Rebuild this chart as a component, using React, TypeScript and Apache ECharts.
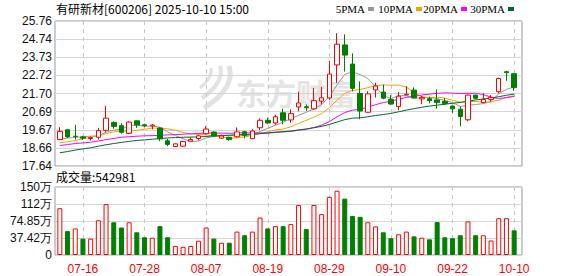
import React, { useEffect, useRef } from "react";
import * as echarts from "echarts";

const dates = [
  "07-11","07-14","07-15","07-16","07-17","07-18","07-21","07-22","07-23","07-24",
  "07-25","07-28","07-29","07-30","07-31","08-01","08-04","08-05","08-06","08-07",
  "08-08","08-11","08-12","08-13","08-14","08-15","08-18","08-19","08-20","08-21",
  "08-22","08-25","08-26","08-27","08-28","08-29","09-01","09-02","09-03","09-04",
  "09-05","09-08","09-09","09-10","09-11","09-12","09-15","09-16","09-17","09-18",
  "09-19","09-22","09-23","09-24","09-25","09-26","09-29","09-30","10-09","10-10",
];

const opens = [
  19.12,19.67,19.31,19.27,19.18,19.25,19.64,20.08,19.90,19.47,
  20.17,19.95,19.88,19.77,19.05,18.73,18.75,19.03,19.18,19.45,
  19.54,19.20,19.25,19.28,19.56,19.17,19.78,20.20,20.05,20.62,
  20.22,20.95,20.96,20.84,21.27,21.45,23.30,24.42,23.35,21.70,
  20.65,21.90,21.78,21.37,20.97,21.62,21.89,21.40,21.41,21.34,
  21.26,21.00,20.82,20.23,21.61,21.19,21.37,21.80,22.92,22.81,
];
const closes = [
  19.58,19.27,19.29,19.20,19.23,19.62,20.32,19.86,19.53,20.10,
  19.93,19.90,19.93,19.16,18.85,18.88,19.01,19.12,19.33,19.71,
  19.32,19.32,19.12,19.55,19.36,19.60,20.20,20.05,20.40,20.20,
  20.57,21.17,20.90,21.30,21.46,22.79,24.46,23.85,21.99,20.72,
  21.68,22.12,21.44,21.11,21.55,21.66,21.45,21.48,21.30,21.19,
  21.13,20.84,20.41,21.61,21.43,21.37,21.48,22.54,22.87,22.04,
];
const lows = [
  19.08,19.21,19.12,19.10,19.07,19.12,19.55,19.73,19.44,19.42,
  19.77,19.82,19.69,19.03,18.75,18.70,18.72,19.01,19.08,19.40,
  19.26,19.15,19.05,19.22,19.19,19.15,19.65,19.98,19.94,19.98,
  20.07,20.70,20.72,20.80,21.09,21.35,22.29,22.93,21.82,20.26,
  20.63,21.47,21.38,21.07,20.76,21.59,21.44,21.10,21.15,20.86,
  21.06,20.60,19.86,20.14,21.37,21.15,21.24,21.71,22.41,21.85,
];
const highs = [
  19.82,19.69,19.95,19.33,19.29,19.77,21.00,20.14,20.04,20.15,
  20.19,20.01,19.99,19.80,19.16,18.90,19.05,19.25,19.40,19.86,
  19.58,19.40,19.28,19.80,19.61,19.70,20.30,20.35,20.51,20.85,
  20.81,21.80,21.09,22.01,22.07,23.52,25.08,25.01,23.95,22.38,
  21.82,22.30,22.20,21.61,21.78,22.10,22.04,21.56,21.52,21.93,
  21.45,21.02,20.97,21.65,21.63,21.71,21.61,22.59,22.98,22.81,
];

// volume in shares
const volumes = [
  1030000,525000,585000,360000,360000,765000,1120000,720000,605000,720000,
  500000,390000,380000,635000,390000,200000,180000,200000,315000,605000,
  360000,270000,270000,515000,435000,515000,825000,585000,635000,635000,
  680000,1100000,570000,1100000,900000,1280000,1415000,1240000,860000,840000,
  720000,630000,500000,370000,455000,515000,410000,380000,345000,725000,
  390000,370000,435000,740000,435000,435000,320000,810000,810000,542981,
];
// 1 = rising (red hollow), 0 = falling (green solid)
const volumeUp = [
  1,0,1,0,1,1,1,0,0,1,
  0,0,1,0,0,1,1,1,1,1,
  0,1,0,1,0,1,1,0,1,0,
  1,1,0,1,1,1,1,0,0,0,
  1,1,0,0,1,1,0,1,0,0,
  0,0,0,1,0,1,1,1,1,0,
];

// moving-average values before a full window of closes is available
const ma5Head = [19.15,19.2,19.25,19.27];
const ma10Head = [18.94,19.0,19.07,19.16,19.25,19.34,19.45,19.55,19.6];
const ma20Head = [18.79,18.84,18.9,18.93,18.97,19.04,19.12,19.18,19.25,19.28,19.31,19.33,19.34,19.36,19.38,19.4,19.42,19.44,19.46];
const ma30Head = [18.38,18.45,18.53,18.6,18.66,18.75,18.83,18.9,18.96,19.02,19.07,19.1,19.14,19.18,19.21,19.23,19.25,19.26,19.27,19.29,19.33,19.34,19.36,19.38,19.4,19.42,19.45,19.48,19.52];

const priceTicks = ["17.64","18.66","19.67","20.69","21.70","22.72","23.73","24.74","25.76"];
const volumeTicks = ["0","37.42万","74.85万","112万","150万"];
const legendNames = ["5PMA","10PMA","20PMA","30PMA"];

const PRICE_MIN = 17.64;
const PRICE_MAX = 25.76;
const PRICE_STEP = 1.015;
const VOL_MAX = 1497000;
const VOL_STEP = 374250;

function movingAverage(n: number, head: number[]): number[] {
  return closes.map((_, i) => {
    if (i < n - 1) return head[i];
    let s = 0;
    for (let k = i - n + 1; k <= i; k++) s += closes[k];
    return +(s / n).toFixed(3);
  });
}

const labelIdx = (i: number) => i >= 3 && (i - 3) % 8 === 0;

export default function App() {
  const ref = useRef<HTMLDivElement>(null);
  useEffect(() => {
    if (!ref.current) return;
    const chart = echarts.init(ref.current, undefined, { renderer: "svg" });

    const kData = dates.map((_, i) => [opens[i], closes[i], lows[i], highs[i]]);
    const maColors = ["#999999", "#f5a300", "#ff00ff", "#006b2e"];
    const maData = [
      movingAverage(5, ma5Head),
      movingAverage(10, ma10Head),
      movingAverage(20, ma20Head),
      movingAverage(30, ma30Head),
    ];
    const volData = volumes.map((v, i) => ({
      value: v,
      itemStyle: volumeUp[i]
        ? { color: "#ffffff", borderColor: "#ff0000", borderWidth: 1 }
        : { color: "#008000", borderColor: "#008000", borderWidth: 1 },
    }));

    const axisFont = { fontFamily: "Liberation Sans", fontSize: 12 };
    const vSplit = {
      show: true,
      interval: (i: number) => labelIdx(i),
      alignWithLabel: true,
      lineStyle: { color: "#c8c8c8", type: [4, 4] as any, width: 1 },
    };

    const legendX = [368, 416, 461, 508];
    const graphics: any[] = [
      {
        type: "text", x: 56, y: 8, z: 10,
        style: { text: "有研新材[600206] 2025-10-10 15:00", fontSize: 12, fontFamily: "Noto Sans CJK SC", fill: "#000", verticalAlign: "middle" },
      },
      {
        type: "text", x: 56, y: 176, z: 10,
        style: { text: "成交量:542981", fontSize: 12, fontFamily: "Noto Sans CJK SC", fill: "#000", verticalAlign: "middle" },
      },
      {
        type: "text", x: 236, y: 92, z: -1, silent: true,
        style: { text: "东方财富", fontSize: 30, fontWeight: "bold", fontFamily: "Noto Sans CJK SC", fill: "#e4e4e4", verticalAlign: "middle" },
      },
      { type: "bezierCurve", z: -1, silent: true, shape: { x1: 229, y1: 66, x2: 204, y2: 108, cpx1: 236, cpy1: 88 }, style: { stroke: "#e2e2e2", lineWidth: 5, fill: null } },
      { type: "bezierCurve", z: -1, silent: true, shape: { x1: 220, y1: 66, x2: 202, y2: 98, cpx1: 225, cpy1: 82 }, style: { stroke: "#e2e2e2", lineWidth: 4, fill: null } },
      { type: "bezierCurve", z: -1, silent: true, shape: { x1: 211, y1: 68, x2: 200, y2: 88, cpx1: 213, cpy1: 77 }, style: { stroke: "#e2e2e2", lineWidth: 3, fill: null } },
    ];
    legendNames.forEach((name, k) => {
      graphics.push({
        type: "text", x: legendX[k] - 3, y: 9, z: 10,
        style: { text: name, fontSize: 11, fontFamily: "Liberation Serif", fill: "#000", align: "right", verticalAlign: "middle" },
      });
      graphics.push({
        type: "rect", z: 10, shape: { x: legendX[k], y: 7, width: 6, height: 4 }, style: { fill: maColors[k] },
      });
    });

    chart.setOption({
      animation: false,
      backgroundColor: "#ffffff",
      grid: [
        { left: 55, right: 56, top: 21, height: 145, show: true, borderColor: "#999", borderWidth: 1, backgroundColor: "transparent" },
        { left: 56, right: 60, top: 21, height: 145 },
        { left: 55, right: 56, top: 187, height: 68, show: true, borderColor: "#999", borderWidth: 1, backgroundColor: "transparent" },
        { left: 56, right: 60, top: 187, height: 68 },
      ],
      xAxis: [
        { gridIndex: 0, type: "category", data: [""], show: false },
        {
          gridIndex: 1, type: "category", data: dates, boundaryGap: true,
          axisLine: { show: false }, axisTick: { show: false }, axisLabel: { show: false },
          splitLine: vSplit,
        },
        { gridIndex: 2, type: "category", data: [""], show: false },
        {
          gridIndex: 3, type: "category", data: dates, boundaryGap: true,
          axisLine: { show: false }, axisTick: { show: false },
          axisLabel: { interval: (i: number) => labelIdx(i), color: "#ff0000", margin: 8, ...axisFont },
          splitLine: vSplit,
        },
      ],
      yAxis: [
        {
          gridIndex: 0, type: "value", min: PRICE_MIN, max: PRICE_MAX, interval: PRICE_STEP,
          axisLine: { show: false }, axisTick: { show: false },
          axisLabel: {
            margin: 3, color: "#111", ...axisFont,
            formatter: (v: number) => priceTicks[Math.round((v - PRICE_MIN) / PRICE_STEP)] ?? "",
          },
          splitLine: { lineStyle: { color: "#d6d6d6", width: 1 } },
        },
        { gridIndex: 1, type: "value", min: PRICE_MIN, max: PRICE_MAX, show: false, splitLine: { show: false } },
        {
          gridIndex: 2, type: "value", min: 0, max: VOL_MAX, interval: VOL_STEP,
          axisLine: { show: false }, axisTick: { show: false },
          axisLabel: {
            margin: 3, color: "#111", ...axisFont,
            formatter: (v: number) => volumeTicks[Math.round(v / VOL_STEP)] ?? "",
          },
          splitLine: { lineStyle: { color: "#d6d6d6", width: 1 } },
        },
        { gridIndex: 3, type: "value", min: 0, max: VOL_MAX, show: false, splitLine: { show: false } },
      ],
      series: [
        {
          type: "candlestick", name: "K", xAxisIndex: 1, yAxisIndex: 1, data: kData, barWidth: 5,
          itemStyle: { color: "#ffffff", color0: "#008000", borderColor: "#ff0000", borderColor0: "#008000", borderWidth: 1 },
          z: 5,
        },
        ...legendNames.map((name, k) => ({
          type: "line", name, xAxisIndex: 1, yAxisIndex: 1, data: maData[k], showSymbol: false, symbol: "none",
          lineStyle: { color: maColors[k], width: 1 }, z: 4,
        })),
        {
          type: "bar", name: "VOL", xAxisIndex: 3, yAxisIndex: 3, data: volData, barWidth: 5,
        },
      ],
      graphic: graphics,
    } as any);

    return () => chart.dispose();
  }, []);

  return (
    <div
      ref={ref}
      style={{ position: "fixed", left: 0, top: 0, width: 578, height: 276, background: "#fff" }}
    />
  );
}
